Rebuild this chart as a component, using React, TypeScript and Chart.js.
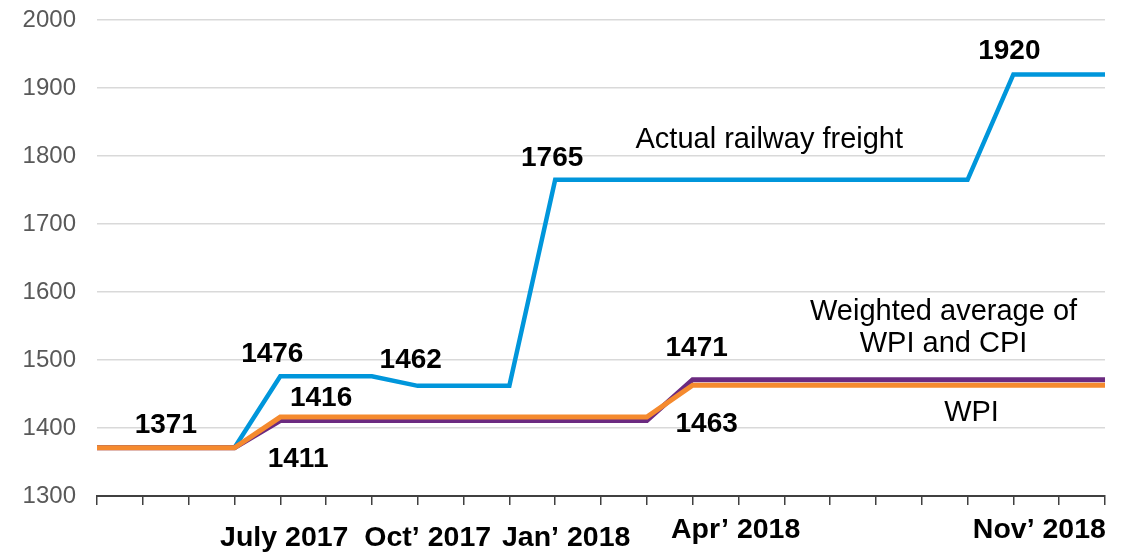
import React, { useEffect, useRef } from "react";
import { Chart, registerables } from "chart.js";

Chart.register(...registerables);

// ---- data ----
const months = [
  "Mar 2017", "Apr 2017", "May 2017", "Jun 2017", "Jul 2017", "Aug 2017",
  "Sep 2017", "Oct 2017", "Nov 2017", "Dec 2017", "Jan 2018", "Feb 2018",
  "Mar 2018", "Apr 2018", "May 2018", "Jun 2018", "Jul 2018", "Aug 2018",
  "Sep 2018", "Oct 2018", "Nov 2018", "Dec 2018", "Jan 2019",
];
const railwayFreight = [
  1371, 1371, 1371, 1371, 1476, 1476, 1476, 1462, 1462, 1462, 1765, 1765,
  1765, 1765, 1765, 1765, 1765, 1765, 1765, 1765, 1920, 1920, 1920,
];
const weightedWpiCpi = [
  1371, 1371, 1371, 1371, 1411, 1411, 1411, 1411, 1411, 1411, 1411, 1411,
  1411, 1471, 1471, 1471, 1471, 1471, 1471, 1471, 1471, 1471, 1471,
];
const wpi = [
  1371, 1371, 1371, 1371, 1416, 1416, 1416, 1416, 1416, 1416, 1416, 1416,
  1416, 1463, 1463, 1463, 1463, 1463, 1463, 1463, 1463, 1463, 1463,
];
const yTicks = [1300, 1400, 1500, 1600, 1700, 1800, 1900, 2000];
const xTickIndices = [4, 7, 10, 13, 20];
const xTickTexts = ["July 2017", "Oct\u2019 2017", "Jan\u2019 2018", "Apr\u2019 2018", "Nov\u2019 2018"];

// value labels: [index, value]
const valueLabelIdx = [1, 4, 5, 5, 7, 10, 13, 13, 20];
const valueLabelVal = [1371, 1476, 1416, 1411, 1462, 1765, 1471, 1463, 1920];

const seriesNotes = ["Actual railway freight", "Weighted average of", "WPI and CPI", "WPI"];
const seriesNoteIdx = [15, 19, 19, 19];
const seriesNoteVal = [1765, 1471, 1471, 1463];

// ---- styles (pixel offsets) ----
const xTickShift = [[4, 42], [10, 42], [11, 42], [43, 34], [26, 34]];
const valueLabelShift = [[23, -22], [-8, -22], [-5, -19], [-28, 39], [-7, -26], [-3, -22], [4, -31], [14, 39], [-4, -23]];
const noteShift = [[-15, -40], [-24, -68], [-24, -36], [4, 28]];

const FONT = "'Liberation Sans', Arial, sans-serif";

const textPlugin = {
  id: "textPlugin",
  afterDatasetsDraw(chart: any) {
    const ctx = chart.ctx;
    const xs = chart.scales.x;
    const ys = chart.scales.y;
    ctx.save();
    ctx.textAlign = "center";
    ctx.textBaseline = "middle";
    ctx.fillStyle = "#000000";
    ctx.font = `bold 28px ${FONT}`;
    valueLabelVal.forEach((v, i) => {
      const x = xs.getPixelForValue(valueLabelIdx[i]) + valueLabelShift[i][0];
      const y = ys.getPixelForValue(v) + valueLabelShift[i][1];
      ctx.fillText(String(v), x, y);
    });
    ctx.font = `29px ${FONT}`;
    seriesNotes.forEach((t, i) => {
      const x = xs.getPixelForValue(seriesNoteIdx[i]) + noteShift[i][0];
      const y = ys.getPixelForValue(seriesNoteVal[i]) + noteShift[i][1];
      ctx.fillText(t, x, y);
    });
    ctx.font = `bold 28.5px ${FONT}`;
    xTickTexts.forEach((t, i) => {
      const x = xs.getPixelForValue(xTickIndices[i]) + xTickShift[i][0];
      const y = xs.top + xTickShift[i][1];
      ctx.fillText(t, x, y);
    });
    ctx.restore();
  },
};

export default function App() {
  const ref = useRef<HTMLCanvasElement | null>(null);
  useEffect(() => {
    document.body.style.margin = "0";
    if (!ref.current) return;
    const chart = new Chart(ref.current, {
      type: "line",
      data: {
        labels: months,
        datasets: [
          {
            label: "WPI",
            data: wpi,
            borderColor: "#F58A2E",
            borderWidth: 5,
            order: 0,
          },
          {
            label: "Weighted average of WPI and CPI",
            data: weightedWpiCpi,
            borderColor: "#6B2A80",
            borderWidth: 5,
            order: 1,
          },
          {
            label: "Actual railway freight",
            data: railwayFreight,
            borderColor: "#0096DB",
            borderWidth: 4.5,
            order: 2,
          },
        ],
      },
      options: {
        animation: false,
        responsive: false,
        maintainAspectRatio: false,
        elements: {
          line: { tension: 0, borderJoinStyle: "miter", borderCapStyle: "butt", fill: false },
          point: { radius: 0, hoverRadius: 0 },
        },
        layout: { padding: { top: 20, right: 30, left: 0, bottom: 0 } },
        plugins: {
          legend: { display: false },
          tooltip: { enabled: false },
        },
        scales: {
          x: {
            type: "category",
            offset: false,
            grid: {
              display: true,
              drawOnChartArea: false,
              drawTicks: true,
              tickLength: 9,
              color: "#404040",
              lineWidth: 1.5,
            },
            border: { display: true, color: "#404040", width: 2 },
            ticks: { display: false, autoSkip: false },
            afterFit: (s: any) => {
              s.height = 56;
            },
          },
          y: {
            min: 1300,
            max: 2000,
            afterBuildTicks: (s: any) => {
              s.ticks = yTicks.map((v) => ({ value: v }));
            },
            grid: { color: "#D9D9D9", lineWidth: 1.5, drawTicks: false },
            border: { display: false },
            ticks: {
              padding: 21,
              color: "#595959",
              font: { family: FONT, size: 24 },
              callback: (v: any) => String(v),
            },
            afterFit: (s: any) => {
              s.width = 97;
              s.paddingTop = 0;
              s.paddingBottom = 0;
            },
          },
        },
      },
      plugins: [textPlugin],
    });
    return () => chart.destroy();
  }, []);
  return (
    <div style={{ position: "absolute", left: 0, top: 0, width: 1135, height: 552, background: "#fff" }}>
      <canvas ref={ref} width={1135} height={552} style={{ width: 1135, height: 552 }} />
    </div>
  );
}
